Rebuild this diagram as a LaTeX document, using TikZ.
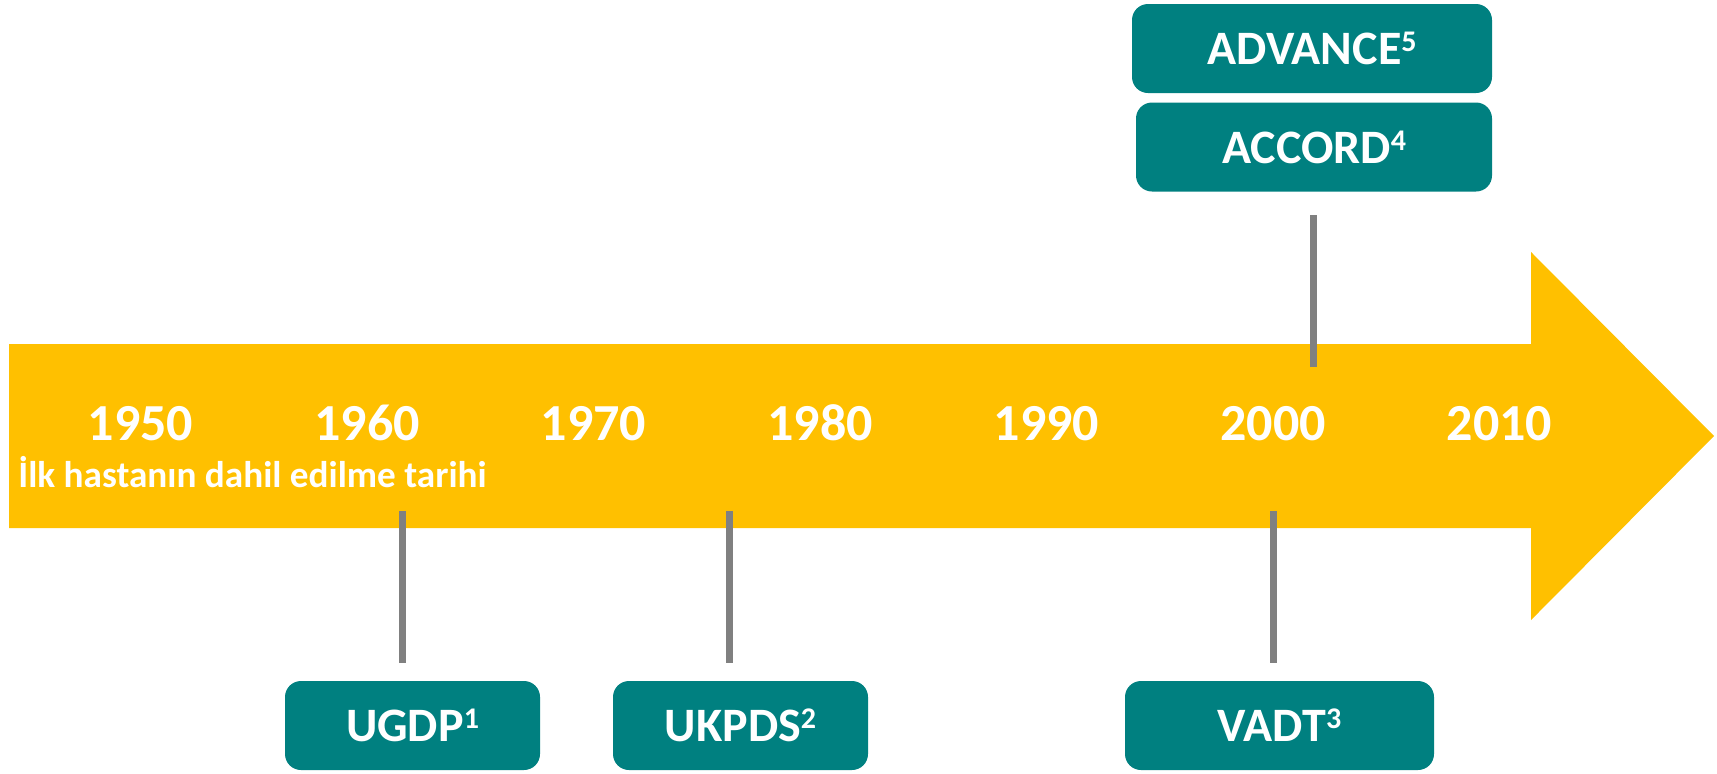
\documentclass[tikz,border=0pt]{standalone}
\usepackage{fontspec}
\setmainfont{Carlito}
\usepackage{xcolor}
\usepackage{tikz}
\definecolor{trialteal}{RGB}{0,128,128}
\definecolor{axisyellow}{RGB}{255,192,0}
\definecolor{stemgray}{RGB}{128,128,128}
\newcommand{\refnum}[1]{\raisebox{6.5pt}{\fontsize{15}{16}\selectfont #1}}

\begin{document}
\begin{tikzpicture}[
  x=0.5pt, y=-0.5pt,
  trial/.style={fill=trialteal, text=white, rounded corners=8pt, minimum height=44.5pt,
                inner sep=0pt, outer sep=0pt, font=\bfseries\fontsize{24}{28}\selectfont},
  year/.style={text=white, anchor=base, inner sep=0pt, font=\bfseries\fontsize{26}{30}\selectfont},
  stem/.style={draw=stemgray, line width=3.5pt}
]
\useasboundingbox (0,0) rectangle (1717,773);
\fill[axisyellow] (9,344) -- (1531,344) -- (1531,252) -- (1714,436) -- (1531,620)
  -- (1531,528) -- (9,528) -- cycle;
\foreach \yr [count=\i from 0] in {1950,1960,...,2010}
  \node[year] (y\yr) at (140.5+226.5*\i,440) {\yr};
\node[text=white, anchor=base west, inner sep=0pt, font=\bfseries\fontsize{18.6}{20}\selectfont]
  (caption) at (18,487) {İlk hastanın dahil edilme tarihi};

\node[trial, minimum width=127.5pt] (ugdp) at (412.5,725.5) {UGDP\refnum{1}};
\node[trial, minimum width=127.5pt] (ukpds) at (740.5,725.5) {UKPDS\refnum{2}};
\node[trial, minimum width=154.5pt] (vadt) at (1279.5,725.5) {VADT\refnum{3}};
\node[trial, minimum width=180pt] (advance) at (1312,48.5) {ADVANCE\refnum{5}};
\node[trial, minimum width=178pt] (accord) at (1314,147) {ACCORD\refnum{4}};

\foreach \tn/\x in {ugdp/402,ukpds/729,vadt/1273} {
  \coordinate (\tn-stem) at (\x,511);
  \draw[stem, shorten >=9pt] (\tn-stem) -- (\tn-stem |- \tn.north);
}
\coordinate (accord-stem) at (1313,367);
\draw[stem, shorten >=11.5pt] (accord-stem) -- (accord-stem |- accord.south);
\end{tikzpicture}
\end{document}
